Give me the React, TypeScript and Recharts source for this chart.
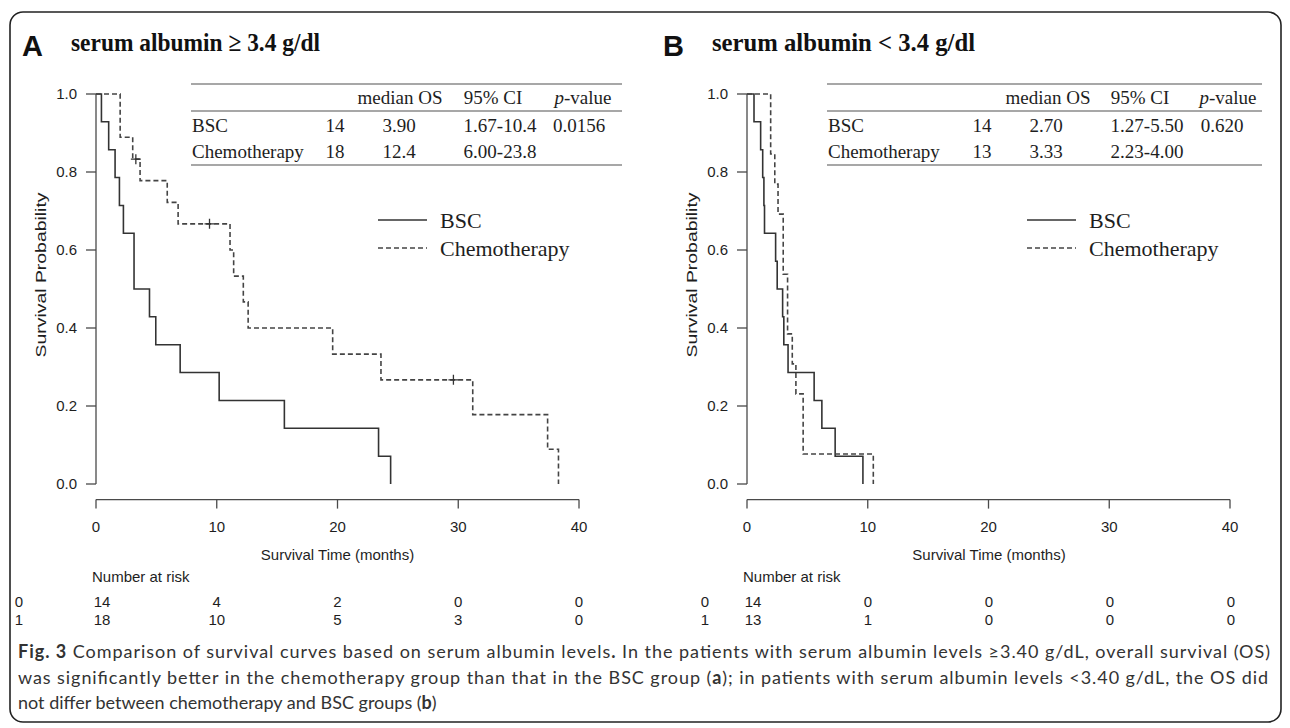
import React from "react";
import {
    ComposedChart,
    Line,
    Scatter,
    XAxis,
    YAxis,
    ReferenceLine,
} from "recharts";

// ---- survival curves (months, probability) ----
const bscATime = [0, 0.45, 1.05, 1.58, 1.94, 2.27, 3.15, 4.43, 4.95, 6.97, 10.2, 15.6, 23.4, 24.4];
const bscASurv = [1, 0.929, 0.857, 0.786, 0.714, 0.643, 0.5, 0.429, 0.357, 0.286, 0.214, 0.143, 0.071, 0];

const chemoATime = [0, 2.0, 3.04, 3.65, 5.9, 6.8, 11.1, 11.4, 12.2, 12.6, 19.6, 23.6, 31.2, 37.4, 38.3];
const chemoASurv = [1, 0.889, 0.833, 0.778, 0.722, 0.667, 0.6, 0.533, 0.467, 0.4, 0.333, 0.267, 0.178, 0.089, 0];

const censorATime = [3.3, 9.4, 29.6];
const censorASurv = [0.833, 0.667, 0.267];

const bscBTime = [0, 0.58, 1.13, 1.3, 1.4, 1.45, 2.37, 2.5, 2.95, 3.05, 3.4, 5.56, 6.2, 7.3, 9.6];
const bscBSurv = [1, 0.929, 0.857, 0.786, 0.714, 0.643, 0.571, 0.5, 0.429, 0.357, 0.286, 0.214, 0.143, 0.071, 0];

const chemoBTime = [0, 1.96, 2.3, 2.57, 3.0, 3.36, 3.75, 4.05, 4.65, 10.46];
const chemoBSurv = [1, 0.846, 0.769, 0.692, 0.538, 0.385, 0.308, 0.231, 0.077, 0];

// ---- axes ----
const xTicks = [0, 10, 20, 30, 40];
const yTicks = [0, 0.2, 0.4, 0.6, 0.8, 1.0];

// ---- summary tables ----
const tableHeader = ["median OS", "95% CI", "p-value"];
const groups = ["BSC", "Chemotherapy"];
const nA = ["14", "18"];
const medianA = ["3.90", "12.4"];
const ciA = ["1.67-10.4", "6.00-23.8"];
const pA = "0.0156";
const nB = ["14", "13"];
const medianB = ["2.70", "3.33"];
const ciB = ["1.27-5.50", "2.23-4.00"];
const pB = "0.620";

// ---- number at risk ----
const riskLabels = ["0", "1"];
const riskA = [
    [14, 4, 2, 0, 0],
    [18, 10, 5, 3, 0],
];
const riskB = [
    [14, 0, 0, 0, 0],
    [13, 1, 0, 0, 0],
];

const toPoints = (t: number[], s: number[]) =>
    t.map((time, i) => ({ time, surv: s[i] }));

const SANS = "'Liberation Sans', Arial, sans-serif";
const SERIF = "'Liberation Serif', 'Times New Roman', serif";
const AXIS = "#4a4a4a";
const INK = "#1e1e1e";

// plus sign for censored observations
const Plus = (props: any) => {
    const { cx, cy } = props;
    if (cx == null || cy == null) return <g />;
    return (
        <path
            d={`M${cx - 5},${cy}H${cx + 5}M${cx},${cy - 5}V${cy + 5}`}
            stroke="#333"
            strokeWidth={1.3}
            fill="none"
        />
    );
};

interface PanelProps {
    left: number;
    bsc: { time: number; surv: number }[];
    chemo: { time: number; surv: number }[];
    censor: { time: number; surv: number }[];
}

const KMPanel: React.FC<PanelProps> = ({ left, bsc, chemo, censor }) => (
    <div style={{ position: "absolute", left, top: 0 }}>
        <ComposedChart
            width={640}
            height={560}
            margin={{ top: 78.4, right: 61, bottom: 20.4, left: 36 }}
        >
            <XAxis
                type="number"
                dataKey="time"
                domain={[0, 40]}
                ticks={xTicks}
                allowDataOverflow
                height={40}
                tickSize={9}
                tickMargin={13}
                axisLine={{ stroke: AXIS, strokeWidth: 1.3 }}
                tickLine={{ stroke: AXIS, strokeWidth: 1.3 }}
                tick={{ fill: INK, fontSize: 15, fontFamily: SANS }}
            />
            <YAxis
                type="number"
                domain={[-0.04, 1.04]}
                ticks={yTicks}
                allowDataOverflow
                width={60}
                tickSize={10}
                tickMargin={9}
                axisLine={false}
                tickLine={{ stroke: AXIS, strokeWidth: 1.3 }}
                tick={{ fill: INK, fontSize: 15, fontFamily: SANS }}
                tickFormatter={(v: number) => v.toFixed(1)}
            />
            <ReferenceLine
                segment={[
                    { x: 0, y: 0 },
                    { x: 0, y: 1 },
                ]}
                stroke={AXIS}
                strokeWidth={1.3}
            />
            <Line
                data={bsc}
                dataKey="surv"
                type="stepAfter"
                stroke="#333"
                strokeWidth={1.6}
                dot={false}
                isAnimationActive={false}
            />
            <Line
                data={chemo}
                dataKey="surv"
                type="stepAfter"
                stroke="#444"
                strokeWidth={1.6}
                strokeDasharray="5 3"
                dot={false}
                isAnimationActive={false}
            />
            {censor.length > 0 && (
                <Scatter
                    data={censor}
                    dataKey="surv"
                    shape={Plus}
                    isAnimationActive={false}
                />
            )}
        </ComposedChart>
    </div>
);

// table drawn over each panel
const SummaryTable = ({
    x0,
    x1,
    cols,
    head,
    n,
    med,
    ci,
    p,
}: any) => (
    <g fontFamily={SERIF} fontSize={19} fill={INK}>
        <line x1={x0} x2={x1} y1={84} y2={84} stroke="#8a8a8a" strokeWidth={1.3} />
        <line x1={x0} x2={x1} y1={111} y2={111} stroke="#8a8a8a" strokeWidth={1.3} />
        <line x1={x0} x2={x1} y1={165} y2={165} stroke="#8a8a8a" strokeWidth={1.3} />
        <text x={head[0]} y={104} textAnchor="middle">{tableHeader[0]}</text>
        <text x={head[1]} y={104} textAnchor="middle">{tableHeader[1]}</text>
        <text x={head[2]} y={104} textAnchor="middle">
            <tspan fontStyle="italic">p</tspan>-value
        </text>
        {groups.map((g, i) => (
            <g key={g}>
                <text x={x0 + 1} y={132 + i * 26}>{g}</text>
                <text x={cols[0]} y={132 + i * 26} textAnchor="middle">{n[i]}</text>
                <text x={cols[1]} y={132 + i * 26} textAnchor="middle">{med[i]}</text>
                <text x={cols[2]} y={132 + i * 26} textAnchor="middle">{ci[i]}</text>
            </g>
        ))}
        <text x={cols[3]} y={132} textAnchor="middle">{p}</text>
    </g>
);

const LegendBox = ({ x }: { x: number }) => (
    <g fontFamily={SERIF} fontSize={22} fill={INK}>
        <line x1={x} x2={x + 49} y1={220} y2={220} stroke="#333" strokeWidth={1.6} />
        <line x1={x} x2={x + 49} y1={248} y2={248} stroke="#444" strokeWidth={1.6} strokeDasharray="5 3" />
        <text x={x + 62} y={228}>BSC</text>
        <text x={x + 62} y={256}>Chemotherapy</text>
    </g>
);

const RiskTable = ({ axisX, pxPerMonth, labelX, rows }: any) => (
    <g fontFamily={SANS} fontSize={15} fill={INK}>
        <text x={axisX - 4} y={582}>Number at risk</text>
        {rows.map((row: number[], r: number) => (
            <g key={r}>
                <text x={labelX} y={607 + r * 18} textAnchor="middle">{riskLabels[r]}</text>
                {row.map((v, c) => (
                    <text
                        key={c}
                        x={axisX + xTicks[c] * pxPerMonth + (c === 0 ? 6 : 0)}
                        y={607 + r * 18}
                        textAnchor="middle"
                    >
                        {v}
                    </text>
                ))}
            </g>
        ))}
    </g>
);

const App: React.FC = () => {
    const panelA = {
        bsc: toPoints(bscATime, bscASurv),
        chemo: toPoints(chemoATime, chemoASurv),
        censor: toPoints(censorATime, censorASurv),
    };
    const panelB = {
        bsc: toPoints(bscBTime, bscBSurv),
        chemo: toPoints(chemoBTime, chemoBSurv),
        censor: [] as { time: number; surv: number }[],
    };

    return (
        <div
            style={{
                position: "absolute",
                left: 0,
                top: 0,
                width: 1290,
                height: 728,
                background: "#fff",
                overflow: "hidden",
            }}
        >
            <KMPanel left={0} {...panelA} />
            <KMPanel left={651} {...panelB} />

            <svg
                width={1290}
                height={728}
                style={{ position: "absolute", left: 0, top: 0, pointerEvents: "none" }}
            >
                <rect
                    x={10}
                    y={12}
                    width={1271}
                    height={710}
                    rx={13}
                    fill="none"
                    stroke="#222"
                    strokeWidth={1.6}
                />

                {/* panel headings */}
                <text x={22} y={56} fontFamily={SANS} fontWeight="bold" fontSize={29} fill="#111">A</text>
                <text
                    x={71}
                    y={51}
                    fontFamily={SERIF}
                    fontWeight="bold"
                    fontSize={26}
                    fill="#111"
                    textLength={249}
                    lengthAdjust="spacingAndGlyphs"
                >
                    serum albumin ≥ 3.4 g/dl
                </text>
                <text x={663} y={56} fontFamily={SANS} fontWeight="bold" fontSize={29} fill="#111">B</text>
                <text
                    x={712}
                    y={51}
                    fontFamily={SERIF}
                    fontWeight="bold"
                    fontSize={26}
                    fill="#111"
                    textLength={263}
                    lengthAdjust="spacingAndGlyphs"
                >
                    serum albumin &lt; 3.4 g/dl
                </text>

                <SummaryTable
                    x0={191}
                    x1={622}
                    head={[400, 493, 583]}
                    cols={[335, 399, 500, 579]}
                    n={nA}
                    med={medianA}
                    ci={ciA}
                    p={pA}
                />
                <SummaryTable
                    x0={827}
                    x1={1262}
                    head={[1048, 1140, 1228]}
                    cols={[982, 1046, 1147, 1222]}
                    n={nB}
                    med={medianB}
                    ci={ciB}
                    p={pB}
                />

                <LegendBox x={378} />
                <LegendBox x={1027} />

                {/* axis titles */}
                {[40, 691].map((cx) => (
                    <text
                        key={cx}
                        transform={`translate(${cx},275) rotate(-90)`}
                        textAnchor="middle"
                        dominantBaseline="central"
                        fontFamily={SANS}
                        fontSize={15}
                        fill={INK}
                        textLength={165}
                        lengthAdjust="spacingAndGlyphs"
                    >
                        Survival Probability
                    </text>
                ))}
                {[337.5, 989].map((cx) => (
                    <text
                        key={cx}
                        x={cx}
                        y={560}
                        textAnchor="middle"
                        fontFamily={SANS}
                        fontSize={15}
                        fill={INK}
                    >
                        Survival Time (months)
                    </text>
                ))}

                <RiskTable axisX={96} pxPerMonth={12.075} labelX={19} rows={riskA} />
                <RiskTable axisX={747} pxPerMonth={12.1} labelX={705} rows={riskB} />

                {/* caption */}
                <g fontFamily="Lato, 'Open Sans', sans-serif" fontSize={18} fill="#333">
                    <text x={18} y={658} textLength={1252} lengthAdjust="spacing">
                        <tspan fontWeight="bold">Fig. 3</tspan> Comparison of survival curves based on serum albumin levels
                        <tspan fontWeight="bold">.</tspan> In the patients with serum albumin levels ≥3.40 g/dL, overall survival (OS)
                    </text>
                    <text x={18} y={684} textLength={1250} lengthAdjust="spacing">
                        was significantly better in the chemotherapy group than that in the BSC group (
                        <tspan fontWeight="bold">a</tspan>); in patients with serum albumin levels &lt;3.40 g/dL, the OS did
                    </text>
                    <text x={18} y={709}>
                        not differ between chemotherapy and BSC groups (<tspan fontWeight="bold">b</tspan>)
                    </text>
                </g>
            </svg>
        </div>
    );
};

export default App;
